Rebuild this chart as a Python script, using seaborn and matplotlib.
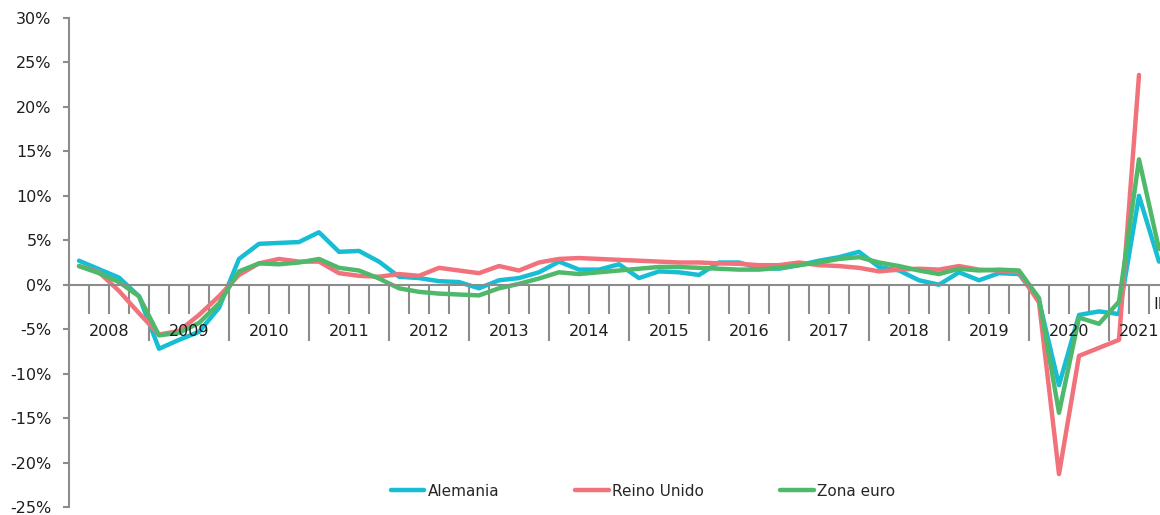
"""
PIB trimestral: Alemania, Reino Unido y zona euro (2008-2021).
"""

import numpy as np
import pandas as pd
import matplotlib
matplotlib.use('Agg')
import matplotlib.pyplot as plt
import seaborn as sns

# --- datos (variación %, trimestral, 2008-I a 2021-III) --- #
years = list(range(2008, 2022))
quarters = ['I', 'II', 'III', 'IV']
series_names = ['Alemania', 'Reino Unido', 'Zona euro']

alemania = [2.7, 1.75, 0.8, -1.3, -7.2, -6.2, -5.3, -2.6,
            2.9, 4.6, 4.7, 4.8, 5.9, 3.7, 3.8, 2.6,
            0.9, 0.75, 0.4, 0.3, -0.4, 0.5, 0.75, 1.4,
            2.6, 1.7, 1.7, 2.3, 0.75, 1.5, 1.4, 1.1,
            2.5, 2.5, 1.9, 1.8, 2.2, 2.7, 3.1, 3.7,
            2.0, 1.6, 0.5, 0.0, 1.4, 0.5, 1.3, 1.2,
            -1.8, -11.3, -3.4, -3.0, -3.3, 10.0, 2.6]

reino_unido = [2.1, 1.4, -0.7, -3.2, -5.6, -5.2, -3.4, -1.3,
               1.1, 2.4, 2.9, 2.6, 2.6, 1.3, 1.0, 0.9,
               1.2, 1.0, 1.9, 1.6, 1.3, 2.1, 1.6, 2.5,
               2.9, 3.0, 2.9, 2.8, 2.7, 2.6, 2.5, 2.5,
               2.4, 2.35, 2.2, 2.2, 2.5, 2.2, 2.1, 1.9,
               1.5, 1.7, 1.8, 1.7, 2.1, 1.7, 1.6, 1.4,
               -2.0, -21.3, -8.0, -7.1, -6.2, 23.6, np.nan]

zona_euro = [2.1, 1.3, 0.3, -1.3, -5.7, -5.4, -4.3, -2.1,
             1.5, 2.4, 2.3, 2.5, 2.9, 1.9, 1.6, 0.7,
             -0.4, -0.8, -1.0, -1.1, -1.2, -0.4, 0.1, 0.7,
             1.4, 1.2, 1.4, 1.6, 1.8, 2.0, 2.0, 1.9,
             1.8, 1.7, 1.7, 1.9, 2.2, 2.5, 2.9, 3.1,
             2.5, 2.1, 1.6, 1.2, 1.8, 1.6, 1.7, 1.6,
             -1.5, -14.4, -3.7, -4.4, -1.9, 14.1, 4.0]

colors = {'Alemania': '#17BDD2', 'Reino Unido': '#F2727C', 'Zona euro': '#4EB96B'}

n = len(alemania)
pos = np.arange(n) + 0.5
q_year = np.array([years[i // 4] for i in range(n)])

df = pd.DataFrame({
    'pos': np.tile(pos, 3),
    'serie': np.repeat(series_names, n),
    'valor': np.concatenate([alemania, reino_unido, zona_euro]),
})

sns.set_theme(style='white')
plt.rcParams['font.family'] = ['DejaVu Sans']
gray = '#8c8c8c'
txt = '#1e1e1e'

fig = plt.figure(figsize=(11.6, 5.15), dpi=100)
ax = fig.add_axes([69 / 1160, 8 / 515, 1 - 69 / 1160, 489 / 515])

sns.lineplot(data=df, x='pos', y='valor', hue='serie', palette=colors,
             estimator=None, sort=False, lw=3.2, ax=ax,
             solid_capstyle='round', solid_joinstyle='round')

# ejes
for s in ['top', 'right']:
    ax.spines[s].set_visible(False)
ax.spines['left'].set_color(gray)
ax.spines['left'].set_linewidth(1.5)
ax.spines['bottom'].set_position(('data', 0))
ax.spines['bottom'].set_color(gray)
ax.spines['bottom'].set_linewidth(1.5)

bounds = np.arange(0, len(years) * 4 + 1)
ax.set_xticks(bounds[bounds % 4 == 0])
ax.set_xticks(bounds[bounds % 4 != 0], minor=True)
ax.set_xticklabels([])
ax.tick_params(axis='x', which='major', direction='out', length=40,
               width=1.5, color=gray, bottom=True)
ax.tick_params(axis='x', which='minor', direction='out', length=21,
               width=1.5, color=gray, bottom=True)

yt = np.arange(-25, 31, 5)
ax.set_yticks(yt)
ax.set_yticklabels(['%d%%' % v for v in yt])
ax.tick_params(axis='y', direction='out', length=4.5, width=1.5,
               color=gray, left=True, pad=8, labelsize=11.5, labelcolor=txt)
ax.set_xlabel('')
ax.set_ylabel('')
ax.grid(False)

# limits after ticks (set_xticks would widen them)
ax.set_xlim(0, (1160 - 69) / 20)
ax.set_ylim(-25, 30)

# etiquetas de año
for y in years:
    c = pos[q_year == y].mean()
    ax.annotate(str(y), xy=(c, 0), xytext=(0, -34), textcoords='offset points',
                ha='center', va='center', fontsize=11.5, color=txt)
ax.annotate('III', xy=(bounds[n - 1], 0), xytext=(3, -14), textcoords='offset points',
            ha='left', va='center', fontsize=11.5, color=txt)

# leyenda
handles, labels = ax.get_legend_handles_labels()
ax.get_legend().remove()
fig.legend(handles, labels, loc='center', bbox_to_anchor=(643 / 1160, 1 - 491 / 515),
           ncol=3, frameon=False, handlelength=2.2, handletextpad=0.2,
           columnspacing=5.0, fontsize=11)

fig.savefig('out.png', dpi=100)
